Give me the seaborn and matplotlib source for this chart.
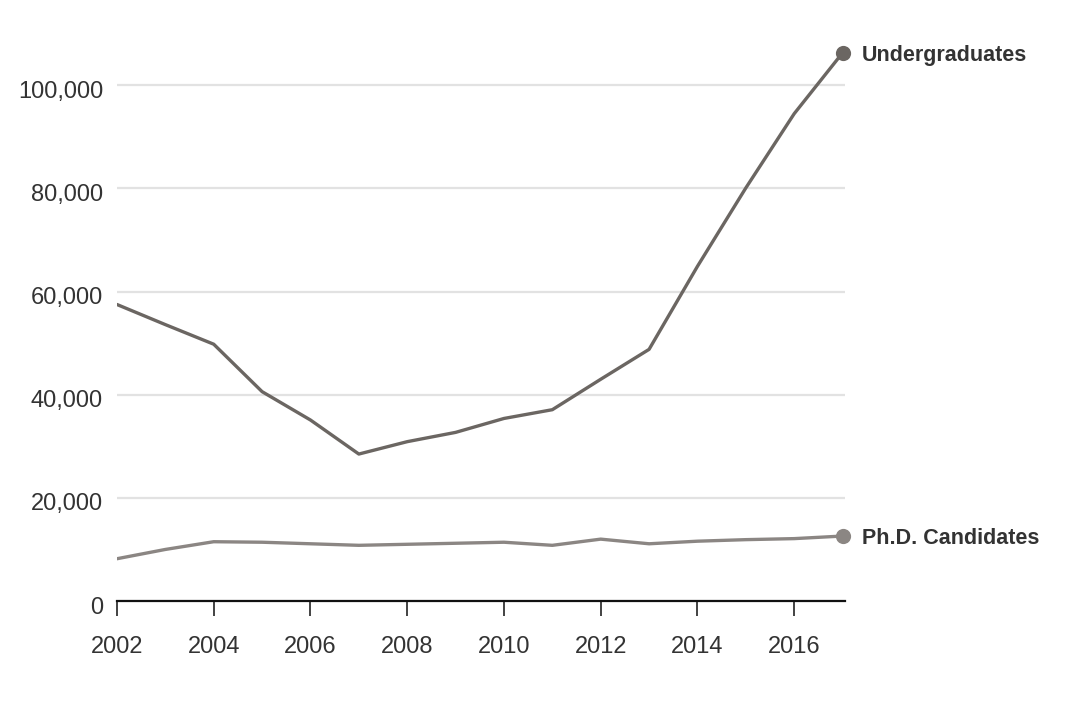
import numpy as np
import pandas as pd
import matplotlib
matplotlib.use("Agg")
import matplotlib.pyplot as plt
import matplotlib.transforms as mtransforms
import seaborn as sns

years = [2002, 2003, 2004, 2005, 2006, 2007, 2008, 2009, 2010,
         2011, 2012, 2013, 2014, 2015, 2016, 2017]
undergraduates = [57500, 53600, 49800, 40600, 35100, 28500, 30900, 32700, 35400,
                  37100, 43000, 48800, 64900, 80100, 94500, 106300]
phd_candidates = [8200, 10000, 11500, 11400, 11100, 10800, 11000, 11200, 11400,
                  10800, 12000, 11100, 11600, 11900, 12100, 12600]
series_names = ["Undergraduates", "Ph.D. Candidates"]
y_ticks = [0, 20000, 40000, 60000, 80000, 100000]
y_tick_labels = ["0", "20,000", "40,000", "60,000", "80,000", "100,000"]
x_ticks = [2002, 2004, 2006, 2008, 2010, 2012, 2014, 2016]

df = pd.DataFrame({
    "year": years * 2,
    "value": undergraduates + phd_candidates,
    "group": [series_names[0]] * len(years) + [series_names[1]] * len(years),
})

sns.set_theme(style="white")
plt.rcParams["font.family"] = ["Liberation Sans", "DejaVu Sans"]

colors = {"Undergraduates": "#6b6662", "Ph.D. Candidates": "#8b8683"}

fig = plt.figure(figsize=(10.8, 7.06), dpi=100)
ax = fig.add_axes([0.1083, 0.1487, 0.6741, 0.7918])

sns.lineplot(data=df, x="year", y="value", hue="group", palette=colors,
             linewidth=2.4, legend=False, ax=ax)

# end dots and labels
for name, vals in zip(series_names, [undergraduates, phd_candidates]):
    ax.scatter([years[-1]], [vals[-1]], s=120, color=colors[name], zorder=5,
               clip_on=False, linewidths=0)
    ax.annotate(name, xy=(years[-1], vals[-1]), xytext=(14, -2),
                textcoords="offset points", va="center", ha="left",
                fontsize=15.5, fontweight="bold", color="#333333")

ax.set_xlim(2002, 2017.05)
ax.set_ylim(0, 108400)

ax.set_yticks(y_ticks)
ax.set_yticklabels(y_tick_labels)
ax.set_xticks(x_ticks)
ax.set_xticklabels([str(x) for x in x_ticks])

ax.yaxis.grid(True, color="#e2e2e2", linewidth=1.6)
ax.set_axisbelow(True)
ax.xaxis.grid(False)

for s in ["top", "right", "left"]:
    ax.spines[s].set_visible(False)
ax.spines["bottom"].set_color("#111111")
ax.spines["bottom"].set_linewidth(1.6)

ax.tick_params(axis="x", bottom=True, direction="out", length=11, width=1.2,
               color="#222222", labelsize=17, labelcolor="#333333", pad=14)
ax.tick_params(axis="y", left=False, length=0, labelsize=17, labelcolor="#333333", pad=10)

offset = mtransforms.ScaledTranslation(0, -4 / 100, fig.dpi_scale_trans)
for lbl in ax.get_yticklabels():
    lbl.set_transform(lbl.get_transform() + offset)

ax.set_xlabel("")
ax.set_ylabel("")

fig.savefig("out.png", dpi=100, facecolor="white")
